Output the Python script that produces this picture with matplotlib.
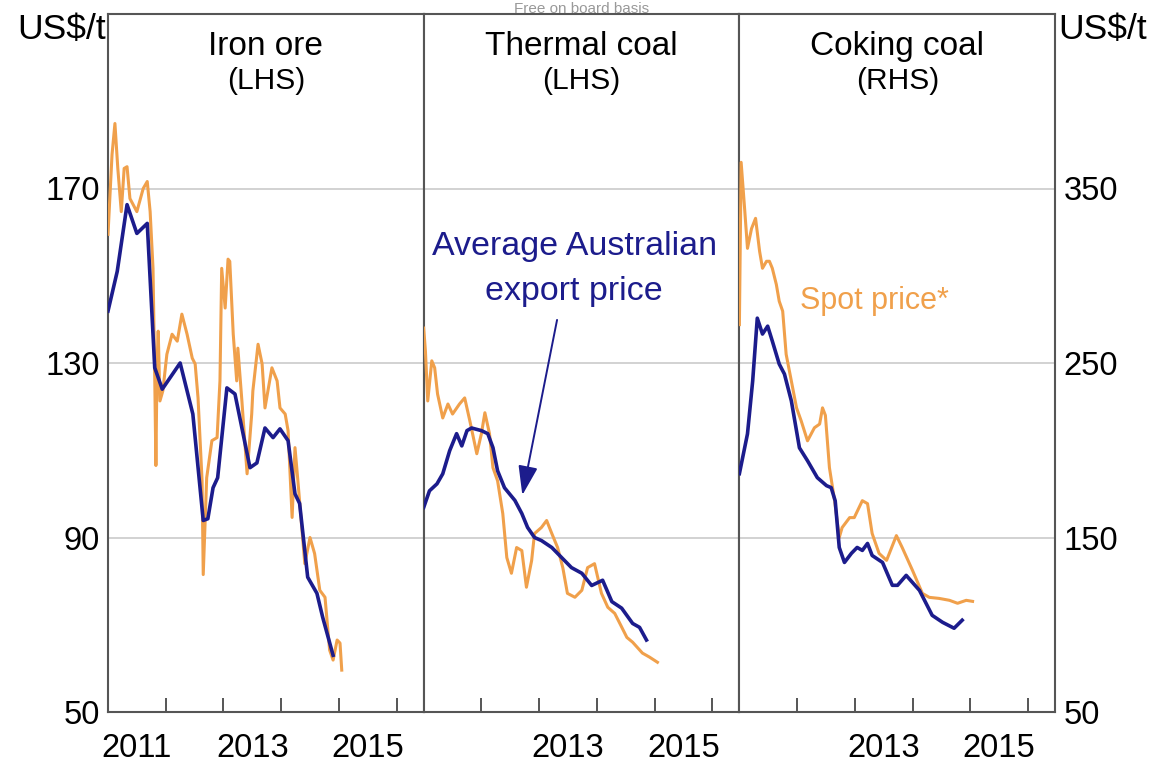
import numpy as np
import matplotlib.pyplot as plt

plt.rcParams['font.family'] = ['Liberation Sans', 'DejaVu Sans']

# Colours
ORANGE = '#f0a04b'
NAVY = '#1c1c8c'
AXIS = '#555555'
GRID = '#cfcfcf'

# Iron ore (US$/t, LHS)
iron_export_x = [2011.00, 2011.16, 2011.33, 2011.50, 2011.68, 2011.81, 2011.94, 2012.25, 2012.47,
                 2012.65, 2012.73, 2012.82, 2012.90, 2013.06, 2013.20, 2013.46, 2013.58, 2013.72,
                 2013.86, 2013.98, 2014.12, 2014.24, 2014.32, 2014.46, 2014.62, 2014.72, 2014.90]
iron_export = [141.9, 151.0, 166.3, 159.7, 162.0, 128.9, 124.0, 130.0, 118.3,
               93.9, 94.3, 101.4, 103.7, 124.3, 122.9, 106.0, 107.1, 115.1,
               112.9, 114.9, 112.2, 100.0, 97.8, 80.9, 77.2, 71.7, 63.0]
iron_spot_x = [2011.00, 2011.07, 2011.12, 2011.17, 2011.23, 2011.28, 2011.33, 2011.38, 2011.50,
               2011.61, 2011.68, 2011.73, 2011.78, 2011.81, 2011.83, 2011.85, 2011.87, 2011.90,
               2011.95, 2012.02, 2012.11, 2012.20, 2012.28, 2012.37, 2012.46, 2012.51, 2012.56,
               2012.63, 2012.65, 2012.71, 2012.80, 2012.89, 2012.94, 2012.97, 2013.03, 2013.08,
               2013.11, 2013.17, 2013.23, 2013.25, 2013.32, 2013.41, 2013.49, 2013.51, 2013.60,
               2013.67, 2013.72, 2013.84, 2013.93, 2013.98, 2014.07, 2014.12, 2014.19, 2014.24,
               2014.29, 2014.41, 2014.50, 2014.58, 2014.67, 2014.76, 2014.84, 2014.90, 2014.97,
               2015.02, 2015.05]
iron_spot = [159.5, 177.8, 184.9, 174.6, 164.7, 174.6, 175.0, 167.7, 164.7,
             170.0, 171.6, 164.7, 151.7, 126.6, 106.5, 130.0, 137.3, 121.3,
             123.6, 132.0, 136.6, 135.0, 141.2, 136.6, 131.1, 129.8, 122.0,
             103.0, 81.5, 103.7, 112.2, 112.9, 125.9, 151.7, 142.6, 153.8,
             153.3, 136.6, 125.9, 133.4, 121.3, 104.6, 118.3, 123.6, 134.3,
             129.8, 119.7, 128.9, 125.9, 119.7, 118.3, 114.5, 94.6, 110.6,
             103.0, 84.0, 90.0, 86.3, 77.9, 76.3, 64.2, 61.9, 66.5,
             65.8, 59.6]

# Thermal coal (US$/t, LHS)
thermal_export_x = [2011.00, 2011.10, 2011.23, 2011.33, 2011.45, 2011.57, 2011.66, 2011.75, 2011.83,
                    2012.00, 2012.11, 2012.20, 2012.28, 2012.40, 2012.58, 2012.70, 2012.80, 2012.92,
                    2013.04, 2013.22, 2013.39, 2013.56, 2013.74, 2013.91, 2014.10, 2014.26, 2014.43,
                    2014.62, 2014.74, 2014.86]
thermal_export = [96.9, 100.7, 102.3, 104.6, 109.9, 113.8, 111.0, 114.5, 115.1,
                  114.5, 113.8, 110.6, 105.3, 101.4, 98.5, 95.5, 92.3, 90.0,
                  89.3, 87.7, 85.4, 83.1, 81.8, 79.0, 80.2, 75.3, 73.8,
                  70.3, 69.4, 66.5]
thermal_spot_x = [2011.00, 2011.03, 2011.07, 2011.14, 2011.19, 2011.24, 2011.33, 2011.42, 2011.50,
                  2011.62, 2011.71, 2011.80, 2011.92, 2012.00, 2012.06, 2012.14, 2012.20, 2012.28,
                  2012.37, 2012.44, 2012.52, 2012.61, 2012.70, 2012.78, 2012.87, 2012.92, 2013.04,
                  2013.13, 2013.22, 2013.32, 2013.41, 2013.49, 2013.62, 2013.74, 2013.84, 2013.96,
                  2014.08, 2014.19, 2014.31, 2014.41, 2014.52, 2014.62, 2014.79, 2014.91, 2015.05]
thermal_spot = [138.0, 132.7, 121.3, 130.5, 128.9, 122.9, 117.4, 120.6, 118.3,
                120.6, 122.0, 116.7, 109.2, 113.8, 118.6, 113.8, 106.0, 103.0,
                95.5, 85.4, 81.8, 87.7, 87.0, 78.6, 84.7, 90.9, 92.3,
                93.9, 90.9, 87.7, 83.1, 77.2, 76.3, 77.9, 83.1, 84.0,
                77.2, 74.0, 72.6, 70.0, 67.1, 66.0, 63.5, 62.6, 61.4]

# Coking coal (US$/t, RHS)
coking_export_x = [2011.00, 2011.14, 2011.23, 2011.31, 2011.40, 2011.49, 2011.57, 2011.69, 2011.78,
                   2011.90, 2012.04, 2012.18, 2012.35, 2012.51, 2012.59, 2012.66, 2012.73, 2012.82,
                   2012.94, 2013.04, 2013.13, 2013.22, 2013.30, 2013.48, 2013.65, 2013.74, 2013.89,
                   2014.12, 2014.34, 2014.52, 2014.72, 2014.86]
coking_export = [186.6, 209.4, 239.7, 275.7, 266.6, 271.1, 262.6, 249.4, 243.7,
                 228.3, 201.4, 194.0, 184.3, 179.7, 178.6, 171.0, 144.3, 135.7,
                 140.9, 144.3, 142.6, 146.6, 139.7, 135.7, 122.6, 122.6, 128.3,
                 119.7, 105.4, 101.4, 98.0, 102.6]
coking_spot_x = [2011.00, 2011.03, 2011.09, 2011.14, 2011.21, 2011.28, 2011.35, 2011.40, 2011.47,
                 2011.52, 2011.57, 2011.64, 2011.69, 2011.75, 2011.81, 2011.90, 2011.99, 2012.07,
                 2012.18, 2012.30, 2012.39, 2012.44, 2012.49, 2012.56, 2012.65, 2012.73, 2012.78,
                 2012.91, 2012.99, 2013.13, 2013.22, 2013.30, 2013.42, 2013.55, 2013.72, 2013.82,
                 2014.00, 2014.17, 2014.29, 2014.46, 2014.64, 2014.78, 2014.93, 2015.04]
coking_spot = [272.0, 365.0, 338.6, 315.7, 327.0, 332.9, 314.0, 304.3, 308.3,
               308.3, 304.3, 295.0, 285.4, 279.7, 255.0, 239.7, 224.3, 216.9,
               205.4, 212.9, 215.0, 224.3, 220.0, 190.0, 171.0, 150.0, 155.7,
               161.4, 161.4, 171.1, 169.4, 152.3, 140.9, 136.9, 151.1, 144.3,
               131.1, 118.0, 115.7, 115.1, 114.0, 112.3, 114.0, 113.4]

panel_titles = ['Iron ore', 'Thermal coal', 'Coking coal']
panel_sides = ['(LHS)', '(LHS)', '(RHS)']
left_ticks = [50, 90, 130, 170]
right_ticks = [50, 150, 250, 350]
year_labels = [['2011', '2013', '2015'], ['2013', '2015'], ['2013', '2015']]

fig = plt.figure(figsize=(11.52, 7.64), dpi=100)
L, B = 108 / 1152, 1 - 712 / 764
W, H = 315.7 / 1152, 698 / 764
axes = [fig.add_axes([L + i * W, B, W, H]) for i in range(3)]

series = [
    (iron_spot_x, iron_spot, iron_export_x, iron_export),
    (thermal_spot_x, thermal_spot, thermal_export_x, thermal_export),
    (coking_spot_x, coking_spot, coking_export_x, coking_export),
]

for i, ax in enumerate(axes):
    sx, sy, ex, ey = series[i]
    ax.plot(sx, sy, color=ORANGE, lw=2.2, zorder=3)
    ax.plot(ex, ey, color=NAVY, lw=2.6, zorder=4)

    ax.set_xlim(2011, 2016.47)
    if i < 2:
        ax.set_ylim(50, 210)
        ax.set_yticks(left_ticks)
    else:
        ax.set_ylim(50, 450)
        ax.set_yticks(right_ticks)
    ax.grid(axis='y', color=GRID, lw=1.3, zorder=0)
    ax.set_axisbelow(True)

    for s in ax.spines.values():
        s.set_color(AXIS)
        s.set_linewidth(1.5)

    # year boundaries as ticks, labels centred in the year
    ax.set_xticks([2012, 2013, 2014, 2015, 2016])
    ax.set_xticklabels([])
    ax.tick_params(axis='x', which='major', direction='in', length=10, width=1.4, color=AXIS)
    ax.set_xticks([int(y) + 0.5 for y in year_labels[i]], minor=True)
    ax.set_xticklabels(year_labels[i], minor=True)
    ax.tick_params(axis='x', which='minor', length=0, pad=15, labelsize=23.5)

    ax.tick_params(axis='y', length=0, labelsize=23.5, pad=6,
                   labelleft=(i == 0), labelright=(i == 2))

    ax.text(0.5, 0.941, panel_titles[i], transform=ax.transAxes, ha='center',
            va='baseline', fontsize=24)
    ax.text(0.5, 0.892, panel_sides[i], transform=ax.transAxes, ha='center',
            va='baseline', fontsize=21.5)

fig.text(106 / 1152, 1 - 39 / 764, 'US$/t', ha='right', va='baseline', fontsize=25.5)
fig.text(1058 / 1152, 1 - 39 / 764, 'US$/t', ha='left', va='baseline', fontsize=25.5)
fig.text(582 / 1152, 1 - 13 / 764, 'Free on board basis', ha='center', va='baseline',
         fontsize=11, color='#999999')

# labels
axes[1].text(2013.61, 156.7, 'Average Australian', ha='center', va='center',
             fontsize=24.5, color=NAVY)
axes[1].text(2013.61, 146.5, 'export price', ha='center', va='center',
             fontsize=24.5, color=NAVY)
axes[1].annotate('', xy=(2012.70, 99.1), xytext=(2013.32, 140.5),
                 arrowprops=dict(arrowstyle='-|>,head_length=0.9,head_width=0.3',
                                 color=NAVY, lw=1.4, mutation_scale=20))
axes[2].text(2013.34, 285.4, 'Spot price*', ha='center', va='center',
             fontsize=22, color=ORANGE)

fig.savefig('out.png', dpi=100)
